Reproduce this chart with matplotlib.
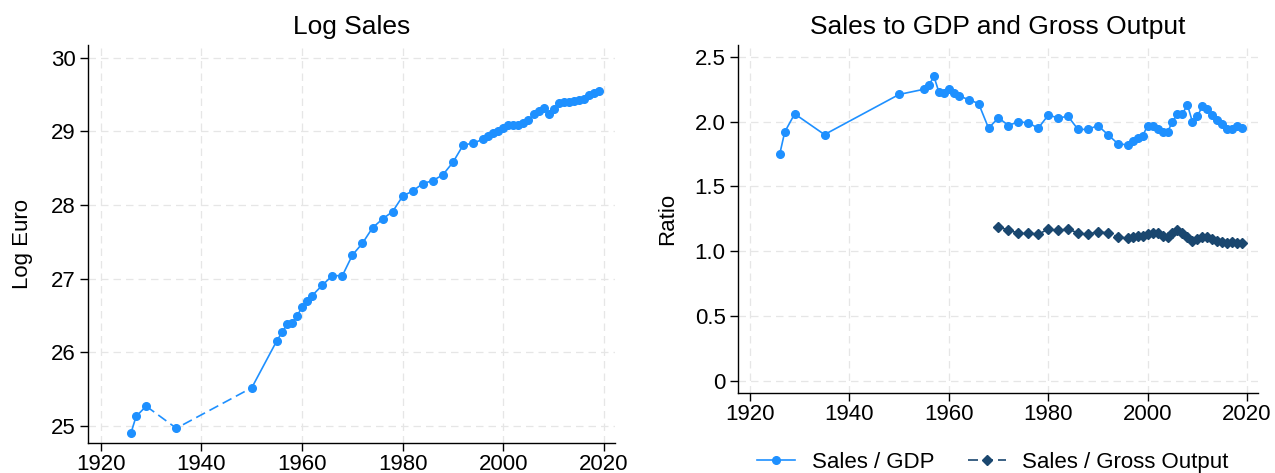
import matplotlib
matplotlib.use("Agg")
import matplotlib.pyplot as plt
from matplotlib.lines import Line2D
import numpy as np

plt.rcParams['font.family'] = ['Liberation Sans', 'DejaVu Sans']

# ---- data -------------------------------------------------------------
years = [1926, 1927, 1929, 1935, 1950,
         1955, 1956, 1957, 1958, 1959, 1960, 1961, 1962,
         1964, 1966, 1968, 1970, 1972, 1974, 1976, 1978, 1980, 1982,
         1984, 1986, 1988, 1990, 1992, 1994, 1996,
         1997, 1998, 1999, 2000, 2001, 2002, 2003, 2004, 2005, 2006,
         2007, 2008, 2009, 2010, 2011, 2012, 2013, 2014, 2015, 2016,
         2017, 2018, 2019]

log_sales = [24.91, 25.13, 25.27, 24.97, 25.52,
             26.16, 26.27, 26.38, 26.40, 26.49, 26.62, 26.70, 26.77,
             26.91, 27.04, 27.04, 27.32, 27.48, 27.69, 27.81, 27.91, 28.12, 28.19,
             28.29, 28.33, 28.41, 28.58, 28.81, 28.84, 28.89,
             28.93, 28.97, 29.00, 29.05, 29.08, 29.08, 29.08, 29.11, 29.15, 29.23,
             29.28, 29.32, 29.23, 29.30, 29.38, 29.39, 29.39, 29.41, 29.42, 29.44,
             29.49, 29.52, 29.55]

sales_gdp = [1.75, 1.92, 2.06, 1.90, 2.21,
             2.25, 2.28, 2.35, 2.23, 2.22, 2.25, 2.22, 2.20,
             2.17, 2.14, 1.95, 2.03, 1.97, 2.00, 1.99, 1.95, 2.05, 2.03,
             2.04, 1.94, 1.94, 1.97, 1.90, 1.83, 1.82,
             1.85, 1.87, 1.89, 1.97, 1.97, 1.94, 1.92, 1.92, 2.00, 2.06,
             2.06, 2.13, 2.00, 2.04, 2.12, 2.10, 2.05, 2.01, 1.98, 1.94,
             1.94, 1.97, 1.95]

go_years = [1970, 1972, 1974, 1976, 1978, 1980, 1982, 1984, 1986, 1988,
            1990, 1992, 1994, 1996,
            1997, 1998, 1999, 2000, 2001, 2002, 2003, 2004, 2005, 2006,
            2007, 2008, 2009, 2010, 2011, 2012, 2013, 2014, 2015, 2016,
            2017, 2018, 2019]

sales_go = [1.19, 1.16, 1.14, 1.14, 1.13, 1.17, 1.16, 1.17, 1.14, 1.13,
            1.15, 1.14, 1.11, 1.10,
            1.11, 1.12, 1.12, 1.13, 1.14, 1.14, 1.12, 1.11, 1.14, 1.16,
            1.14, 1.11, 1.08, 1.09, 1.11, 1.11, 1.09, 1.08, 1.07, 1.06,
            1.07, 1.06, 1.06]

# interwar stretch with sparse observations, drawn dashed
gap_start, gap_end = 1929, 1950

x_ticks = [1920, 1940, 1960, 1980, 2000, 2020]
left_y_ticks = [25, 26, 27, 28, 29, 30]
right_y_ticks = [0, 0.5, 1.0, 1.5, 2.0, 2.5]
right_y_labels = ["0", "0.5", "1.0", "1.5", "2.0", "2.5"]

BLUE = "#1e90ff"
NAVY = "#1a476f"
GRID = "#e6e6e6"

# ---- figure -----------------------------------------------------------
W, H = 1275, 473
fig = plt.figure(figsize=(W / 100, H / 100), dpi=100)
ax1 = fig.add_axes([88.3 / W, 1 - 443 / H, (615 - 88.3) / W, (443 - 45) / H])
ax2 = fig.add_axes([738 / W, 1 - 393 / H, (1258 - 738) / W, (393 - 45) / H])


def style_axes(ax):
    for side in ("top", "right"):
        ax.spines[side].set_visible(False)
    for side in ("left", "bottom"):
        ax.spines[side].set_linewidth(1.0)
        ax.spines[side].set_color("black")
    ax.grid(True, color=GRID, linestyle=(0, (6, 4)), linewidth=0.9)
    ax.set_axisbelow(True)
    ax.tick_params(axis="both", direction="out", length=5.5, width=1.0,
                   labelsize=16, colors="black")
    ax.tick_params(axis="x", pad=2.5)
    ax.tick_params(axis="y", pad=3.5)
    ax.set_xticks(x_ticks)


# ---- left panel: log sales --------------------------------------------
yrs = np.array(years)
ls = np.array(log_sales)
line_kw = dict(color=BLUE, linewidth=1.2)
pre = yrs <= gap_start
mid = (yrs >= gap_start) & (yrs <= gap_end)
post = yrs >= gap_end
ax1.plot(yrs[pre], ls[pre], linestyle="-", **line_kw)
ax1.plot(yrs[mid], ls[mid], linestyle=(0, (6, 3)), **line_kw)
ax1.plot(yrs[post], ls[post], linestyle="-", **line_kw)
ax1.plot(yrs, ls, linestyle="none", marker="o", markersize=5.5, color=BLUE)

style_axes(ax1)
ax1.set_xlim(1917.5, 2022.2)
ax1.set_ylim(24.77, 30.17)
ax1.set_yticks(left_y_ticks)
ax1.set_title("Log Sales", fontsize=19, pad=8)
ax1.set_ylabel("Log Euro", fontsize=16)
ax1.yaxis.set_label_coords(-0.105, 0.5)

# ---- right panel: sales ratios ----------------------------------------
ax2.plot(years, sales_gdp, color=BLUE, linewidth=1.2, linestyle="-",
         marker="o", markersize=5.5)
ax2.plot(go_years, sales_go, color=NAVY, linewidth=1.2, linestyle=(0, (6, 3)),
         marker="D", markersize=5.5)

style_axes(ax2)
ax2.set_xlim(1917.6, 2022.2)
ax2.set_ylim(-0.096, 2.592)
ax2.set_yticks(right_y_ticks)
ax2.set_yticklabels(right_y_labels)
ax2.set_title("Sales to GDP and Gross Output", fontsize=19, pad=8)
ax2.set_ylabel("Ratio", fontsize=16)
ax2.yaxis.set_label_coords(-0.115, 0.5)

handles = [
    Line2D([], [], color=BLUE, linewidth=1.2, linestyle="-",
           marker="o", markersize=5.5),
    Line2D([], [], color=NAVY, linewidth=1.2, linestyle=(0, (6, 3)),
           marker="D", markersize=5.5),
]
fig.legend(handles, ["Sales / GDP", "Sales / Gross Output"],
           loc="center", bbox_to_anchor=(993 / W, 1 - 462 / H), ncol=2,
           frameon=False, fontsize=16, handlelength=1.7, handletextpad=0.75,
           columnspacing=1.5, numpoints=1)

fig.savefig("out.png", dpi=100)
